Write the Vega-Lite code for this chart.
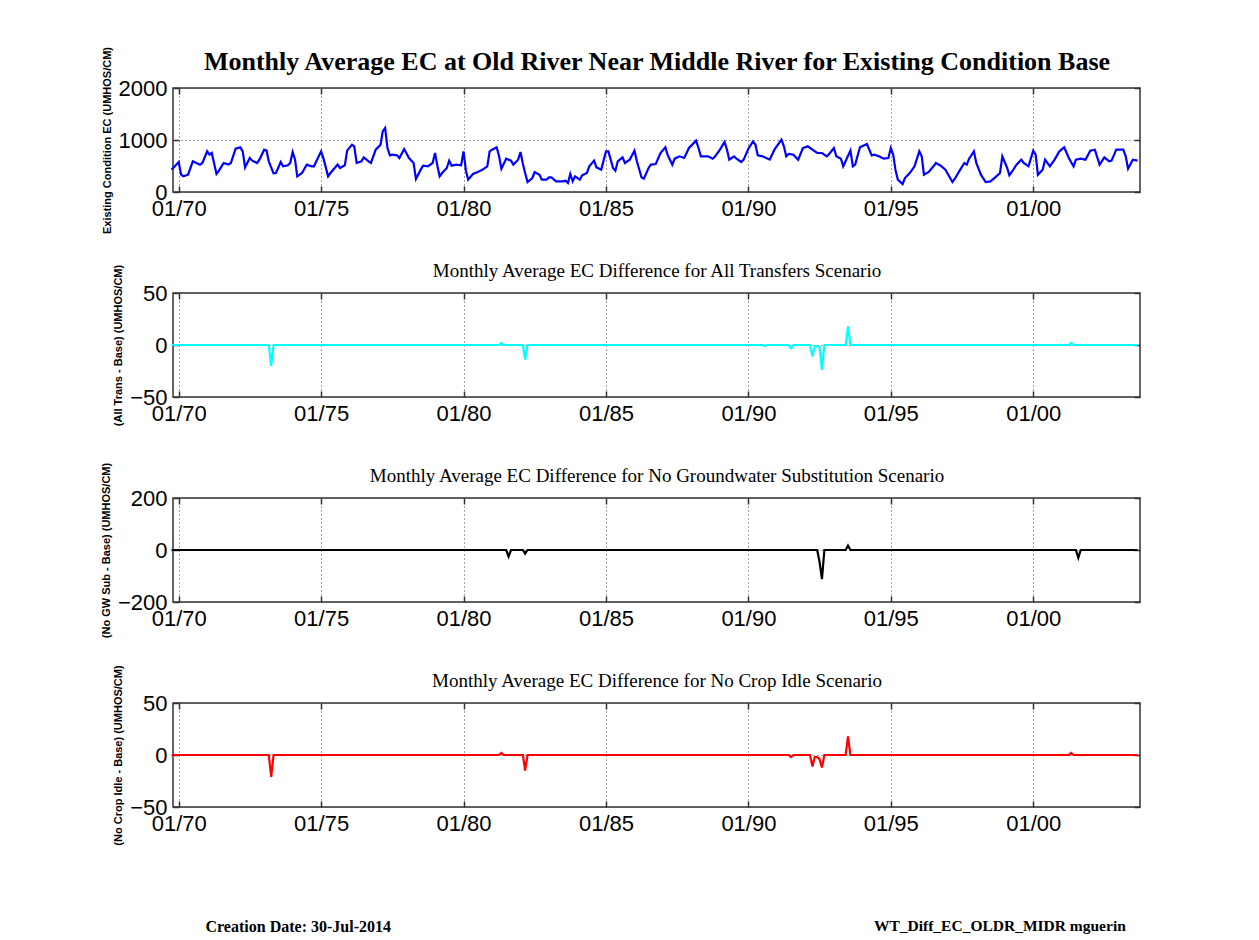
{
  "$schema": "https://vega.github.io/schema/vega-lite/v6.json",
  "background": "white",
  "padding": {"left": 99, "top": 44, "right": 0, "bottom": 0},
  "datasets": {
    "base": [
      {"date":"1969-10-01","v":430},{"date":"1970-01-01","v":577},{"date":"1970-02-01","v":333},{"date":"1970-03-01","v":301},{"date":"1970-05-01","v":333},{"date":"1970-07-01","v":590},{"date":"1970-10-01","v":526},{"date":"1970-11-01","v":558},
      {"date":"1971-01-01","v":782},{"date":"1971-02-01","v":718},{"date":"1971-03-01","v":750},{"date":"1971-05-01","v":346},{"date":"1971-06-01","v":410},{"date":"1971-08-01","v":558},{"date":"1971-10-01","v":526},{"date":"1971-11-01","v":558},
      {"date":"1972-01-01","v":833},{"date":"1972-03-01","v":859},{"date":"1972-04-01","v":782},{"date":"1972-05-01","v":474},{"date":"1972-07-01","v":654},{"date":"1972-08-01","v":603},{"date":"1972-10-01","v":558},{"date":"1972-11-01","v":622},
      {"date":"1973-01-01","v":814},{"date":"1973-02-01","v":795},{"date":"1973-03-01","v":590},{"date":"1973-05-01","v":359},{"date":"1973-06-01","v":365},{"date":"1973-08-01","v":577},{"date":"1973-09-01","v":494},{"date":"1973-11-01","v":513},{"date":"1973-12-01","v":558},
      {"date":"1974-01-01","v":769},{"date":"1974-02-01","v":622},{"date":"1974-03-01","v":301},{"date":"1974-05-01","v":365},{"date":"1974-07-01","v":526},{"date":"1974-09-01","v":494},{"date":"1974-10-01","v":494},
      {"date":"1975-01-01","v":782},{"date":"1975-02-01","v":641},{"date":"1975-04-01","v":301},{"date":"1975-05-01","v":365},{"date":"1975-08-01","v":526},{"date":"1975-09-01","v":462},{"date":"1975-11-01","v":513},{"date":"1975-12-01","v":795},
      {"date":"1976-02-01","v":910},{"date":"1976-03-01","v":878},{"date":"1976-04-01","v":558},{"date":"1976-06-01","v":590},{"date":"1976-07-01","v":667},{"date":"1976-09-01","v":590},{"date":"1976-10-01","v":558},{"date":"1976-12-01","v":814},
      {"date":"1977-02-01","v":910},{"date":"1977-03-01","v":1167},{"date":"1977-04-01","v":1231},{"date":"1977-05-01","v":846},{"date":"1977-06-01","v":705},{"date":"1977-07-01","v":718},{"date":"1977-09-01","v":705},{"date":"1977-10-01","v":654},{"date":"1977-12-01","v":827},
      {"date":"1978-02-01","v":654},{"date":"1978-04-01","v":558},{"date":"1978-05-01","v":250},{"date":"1978-07-01","v":430},{"date":"1978-08-01","v":506},{"date":"1978-10-01","v":494},{"date":"1978-12-01","v":558},
      {"date":"1979-01-01","v":750},{"date":"1979-02-01","v":494},{"date":"1979-03-01","v":301},{"date":"1979-04-01","v":365},{"date":"1979-06-01","v":462},{"date":"1979-07-01","v":603},{"date":"1979-08-01","v":506},{"date":"1979-10-01","v":526},{"date":"1979-12-01","v":513},
      {"date":"1980-01-01","v":782},{"date":"1980-02-01","v":410},{"date":"1980-03-01","v":237},{"date":"1980-05-01","v":346},{"date":"1980-07-01","v":385},{"date":"1980-09-01","v":430},{"date":"1980-11-01","v":494},{"date":"1980-12-01","v":782},
      {"date":"1981-01-01","v":814},{"date":"1981-03-01","v":859},{"date":"1981-04-01","v":686},{"date":"1981-05-01","v":449},{"date":"1981-07-01","v":641},{"date":"1981-09-01","v":603},{"date":"1981-10-01","v":526},{"date":"1981-12-01","v":622},
      {"date":"1982-01-01","v":769},{"date":"1982-02-01","v":538},{"date":"1982-03-01","v":365},{"date":"1982-04-01","v":192},{"date":"1982-06-01","v":269},{"date":"1982-07-01","v":385},{"date":"1982-09-01","v":333},{"date":"1982-10-01","v":237},{"date":"1982-12-01","v":237},
      {"date":"1983-01-01","v":282},{"date":"1983-02-01","v":282},{"date":"1983-04-01","v":205},{"date":"1983-07-01","v":205},{"date":"1983-08-01","v":218},{"date":"1983-09-01","v":173},{"date":"1983-10-01","v":346},{"date":"1983-11-01","v":205},{"date":"1983-12-01","v":301},
      {"date":"1984-02-01","v":237},{"date":"1984-03-01","v":320},{"date":"1984-05-01","v":365},{"date":"1984-06-01","v":494},{"date":"1984-08-01","v":603},{"date":"1984-09-01","v":474},{"date":"1984-11-01","v":430},
      {"date":"1985-01-01","v":782},{"date":"1985-02-01","v":782},{"date":"1985-04-01","v":462},{"date":"1985-05-01","v":410},{"date":"1985-06-01","v":590},{"date":"1985-08-01","v":667},{"date":"1985-09-01","v":558},{"date":"1985-11-01","v":622},
      {"date":"1986-01-01","v":795},{"date":"1986-02-01","v":590},{"date":"1986-04-01","v":282},{"date":"1986-05-01","v":256},{"date":"1986-07-01","v":462},{"date":"1986-08-01","v":526},{"date":"1986-10-01","v":538},{"date":"1986-12-01","v":750},
      {"date":"1987-02-01","v":859},{"date":"1987-03-01","v":718},{"date":"1987-05-01","v":526},{"date":"1987-06-01","v":641},{"date":"1987-08-01","v":686},{"date":"1987-10-01","v":654},{"date":"1987-12-01","v":846},
      {"date":"1988-03-01","v":987},{"date":"1988-04-01","v":846},{"date":"1988-05-01","v":686},{"date":"1988-08-01","v":686},{"date":"1988-10-01","v":641},{"date":"1988-11-01","v":686},
      {"date":"1989-01-01","v":814},{"date":"1989-03-01","v":962},{"date":"1989-04-01","v":814},{"date":"1989-05-01","v":622},{"date":"1989-07-01","v":686},{"date":"1989-08-01","v":641},{"date":"1989-10-01","v":577},{"date":"1989-11-01","v":622},
      {"date":"1990-01-01","v":833},{"date":"1990-03-01","v":974},{"date":"1990-04-01","v":910},{"date":"1990-05-01","v":705},{"date":"1990-07-01","v":686},{"date":"1990-10-01","v":622},{"date":"1990-12-01","v":814},
      {"date":"1991-03-01","v":1006},{"date":"1991-04-01","v":878},{"date":"1991-05-01","v":686},{"date":"1991-06-01","v":731},{"date":"1991-08-01","v":718},{"date":"1991-10-01","v":622},{"date":"1991-12-01","v":846},
      {"date":"1992-02-01","v":878},{"date":"1992-04-01","v":814},{"date":"1992-06-01","v":750},{"date":"1992-08-01","v":750},{"date":"1992-10-01","v":686},{"date":"1992-11-01","v":731},
      {"date":"1993-01-01","v":846},{"date":"1993-02-01","v":686},{"date":"1993-04-01","v":641},{"date":"1993-05-01","v":494},{"date":"1993-08-01","v":795},{"date":"1993-09-01","v":494},{"date":"1993-10-01","v":526},{"date":"1993-12-01","v":859},
      {"date":"1994-03-01","v":923},{"date":"1994-05-01","v":705},{"date":"1994-06-01","v":718},{"date":"1994-08-01","v":686},{"date":"1994-10-01","v":641},{"date":"1994-12-01","v":654},
      {"date":"1995-01-01","v":846},{"date":"1995-02-01","v":718},{"date":"1995-03-01","v":430},{"date":"1995-04-01","v":237},{"date":"1995-06-01","v":154},{"date":"1995-07-01","v":269},{"date":"1995-09-01","v":365},{"date":"1995-11-01","v":494},
      {"date":"1996-01-01","v":782},{"date":"1996-02-01","v":686},{"date":"1996-03-01","v":333},{"date":"1996-05-01","v":385},{"date":"1996-07-01","v":494},{"date":"1996-08-01","v":558},{"date":"1996-10-01","v":506},{"date":"1996-12-01","v":430},
      {"date":"1997-03-01","v":192},{"date":"1997-04-01","v":256},{"date":"1997-06-01","v":410},{"date":"1997-08-01","v":558},{"date":"1997-09-01","v":526},{"date":"1997-10-01","v":641},{"date":"1997-12-01","v":782},
      {"date":"1998-01-01","v":558},{"date":"1998-03-01","v":333},{"date":"1998-05-01","v":192},{"date":"1998-07-01","v":205},{"date":"1998-09-01","v":282},{"date":"1998-11-01","v":365},{"date":"1998-12-01","v":686},
      {"date":"1999-02-01","v":462},{"date":"1999-03-01","v":320},{"date":"1999-04-01","v":385},{"date":"1999-06-01","v":526},{"date":"1999-08-01","v":622},{"date":"1999-09-01","v":558},{"date":"1999-11-01","v":494},
      {"date":"2000-01-01","v":795},{"date":"2000-02-01","v":718},{"date":"2000-03-01","v":333},{"date":"2000-05-01","v":430},{"date":"2000-06-01","v":622},{"date":"2000-08-01","v":494},{"date":"2000-10-01","v":622},{"date":"2000-12-01","v":782},
      {"date":"2001-02-01","v":859},{"date":"2001-04-01","v":654},{"date":"2001-06-01","v":494},{"date":"2001-07-01","v":622},{"date":"2001-09-01","v":641},{"date":"2001-11-01","v":622},
      {"date":"2002-01-01","v":795},{"date":"2002-03-01","v":814},{"date":"2002-05-01","v":526},{"date":"2002-07-01","v":667},{"date":"2002-09-01","v":590},{"date":"2002-10-01","v":603},{"date":"2002-12-01","v":814},
      {"date":"2003-03-01","v":814},{"date":"2003-04-01","v":686},{"date":"2003-05-01","v":449},{"date":"2003-07-01","v":622},{"date":"2003-09-01","v":603}
    ],
    "trans": [
      {"date":"1969-10-01","v":0},{"date":"1973-03-01","v":0},{"date":"1973-04-01","v":-20},{"date":"1973-05-01","v":0},
      {"date":"1981-04-01","v":0},{"date":"1981-05-01","v":2},{"date":"1981-06-01","v":0},
      {"date":"1982-02-01","v":0},{"date":"1982-03-01","v":-14},{"date":"1982-04-01","v":0},
      {"date":"1990-07-01","v":0},{"date":"1990-08-01","v":-1},{"date":"1990-09-01","v":0},
      {"date":"1991-06-01","v":0},{"date":"1991-07-01","v":-3},{"date":"1991-08-01","v":0},
      {"date":"1992-03-01","v":0},{"date":"1992-04-01","v":-11},{"date":"1992-05-01","v":-1},{"date":"1992-06-01","v":-1},{"date":"1992-07-01","v":-2},{"date":"1992-08-01","v":-24},{"date":"1992-09-01","v":0},
      {"date":"1993-06-01","v":0},{"date":"1993-07-01","v":18},{"date":"1993-08-01","v":0},
      {"date":"2001-04-01","v":0},{"date":"2001-05-01","v":2},{"date":"2001-06-01","v":0},{"date":"2003-09-01","v":0}
    ],
    "gw": [
      {"date":"1969-10-01","v":0},{"date":"1981-07-01","v":0},{"date":"1981-08-01","v":-25},{"date":"1981-09-01","v":0},
      {"date":"1982-02-01","v":0},{"date":"1982-03-01","v":-14},{"date":"1982-04-01","v":0},
      {"date":"1992-06-01","v":0},{"date":"1992-07-01","v":-45},{"date":"1992-08-01","v":-112},{"date":"1992-09-01","v":0},
      {"date":"1993-06-01","v":0},{"date":"1993-07-01","v":17},{"date":"1993-08-01","v":0},
      {"date":"2001-07-01","v":0},{"date":"2001-08-01","v":-30},{"date":"2001-09-01","v":0},{"date":"2003-09-01","v":0}
    ],
    "crop": [
      {"date":"1969-10-01","v":0},{"date":"1973-03-01","v":0},{"date":"1973-04-01","v":-21},{"date":"1973-05-01","v":0},
      {"date":"1981-04-01","v":0},{"date":"1981-05-01","v":2},{"date":"1981-06-01","v":0},
      {"date":"1982-02-01","v":0},{"date":"1982-03-01","v":-15},{"date":"1982-04-01","v":0},
      {"date":"1991-06-01","v":0},{"date":"1991-07-01","v":-2},{"date":"1991-08-01","v":0},
      {"date":"1992-03-01","v":0},{"date":"1992-04-01","v":-11},{"date":"1992-05-01","v":-2},{"date":"1992-06-01","v":-2},{"date":"1992-07-01","v":-4},{"date":"1992-08-01","v":-12},{"date":"1992-09-01","v":0},
      {"date":"1993-06-01","v":0},{"date":"1993-07-01","v":18},{"date":"1993-08-01","v":0},
      {"date":"2001-04-01","v":0},{"date":"2001-05-01","v":2},{"date":"2001-06-01","v":0},{"date":"2003-09-01","v":0}
    ]
  },
  "title": {"text": "WT_Diff_EC_OLDR_MIDR mguerin", "orient": "bottom", "anchor": "end", "font": "Liberation Serif", "fontSize": 15.5, "fontWeight": "bold", "color": "#000", "offset": -10, "dx": -17, "dy": -6},
  "bounds": "flush",
  "spacing": 101,
  "vconcat": [
    {
      "data": {"name": "base"},
      "width": 967, "height": 104,
      "layer": [
        {"mark": {"type": "line", "color": "#0000ff", "strokeWidth": 2.2},
         "encoding": {
           "x": {"field": "date", "type": "temporal", "scale": {"type": "utc", "domain": [{"year": 1969, "month": 10, "date": 20, "utc": true}, {"year": 2003, "month": 10, "date": 1, "utc": true}]},
                 "axis": {"title": null, "format": "%m/%y", "values": [{"year":1970,"month":1,"date":1,"utc":true},{"year":1975,"month":1,"date":1,"utc":true},{"year":1980,"month":1,"date":1,"utc":true},{"year":1985,"month":1,"date":1,"utc":true},{"year":1990,"month":1,"date":1,"utc":true},{"year":1995,"month":1,"date":1,"utc":true},{"year":2000,"month":1,"date":1,"utc":true}], "grid": true}},
           "y": {"field": "v", "type": "quantitative", "scale": {"domain": [0, 2000], "nice": false, "zero": false},
                 "axis": {"title": "Existing Condition  EC (UMHOS/CM)", "format": "d", "values": [0, 1000, 2000], "grid": true}}
         }},
        {"mark": {"type": "line", "opacity": 0},
         "encoding": {
           "x": {"field": "date", "type": "temporal", "axis": {"orient": "top", "labels": false, "grid": false, "title": "Monthly Average EC at Old River Near Middle River for Existing Condition Base", "titleFont": "Liberation Serif", "titleFontSize": 26, "titleFontWeight": "bold", "titlePadding": 13, "values": [{"year":1970,"month":1,"date":1,"utc":true},{"year":1975,"month":1,"date":1,"utc":true},{"year":1980,"month":1,"date":1,"utc":true},{"year":1985,"month":1,"date":1,"utc":true},{"year":1990,"month":1,"date":1,"utc":true},{"year":1995,"month":1,"date":1,"utc":true},{"year":2000,"month":1,"date":1,"utc":true}]}},
           "y": {"field": "v", "type": "quantitative", "axis": {"orient": "right", "labels": false, "grid": false, "title": null, "values": [0, 1000, 2000]}}
         }}
      ],
      "resolve": {"axis": {"x": "independent", "y": "independent"}}
    },
    {
      "data": {"name": "trans"},
      "width": 967, "height": 104,
      "layer": [
        {"mark": {"type": "line", "color": "#00ffff", "strokeWidth": 2.2},
         "encoding": {
           "x": {"field": "date", "type": "temporal", "scale": {"type": "utc", "domain": [{"year": 1969, "month": 10, "date": 20, "utc": true}, {"year": 2003, "month": 10, "date": 1, "utc": true}]},
                 "axis": {"title": null, "format": "%m/%y", "values": [{"year":1970,"month":1,"date":1,"utc":true},{"year":1975,"month":1,"date":1,"utc":true},{"year":1980,"month":1,"date":1,"utc":true},{"year":1985,"month":1,"date":1,"utc":true},{"year":1990,"month":1,"date":1,"utc":true},{"year":1995,"month":1,"date":1,"utc":true},{"year":2000,"month":1,"date":1,"utc":true}], "grid": true}},
           "y": {"field": "v", "type": "quantitative", "scale": {"domain": [-50, 50], "nice": false, "zero": false},
                 "axis": {"title": "(All Trans  -  Base) (UMHOS/CM)", "format": "d", "values": [-50, 0, 50], "grid": true}}
         }},
        {"mark": {"type": "line", "opacity": 0},
         "encoding": {
           "x": {"field": "date", "type": "temporal", "axis": {"orient": "top", "labels": false, "grid": false, "title": "Monthly Average EC Difference for All Transfers Scenario", "titleFont": "Liberation Serif", "titleFontSize": 19, "titleFontWeight": "normal", "titlePadding": 12, "values": [{"year":1970,"month":1,"date":1,"utc":true},{"year":1975,"month":1,"date":1,"utc":true},{"year":1980,"month":1,"date":1,"utc":true},{"year":1985,"month":1,"date":1,"utc":true},{"year":1990,"month":1,"date":1,"utc":true},{"year":1995,"month":1,"date":1,"utc":true},{"year":2000,"month":1,"date":1,"utc":true}]}},
           "y": {"field": "v", "type": "quantitative", "axis": {"orient": "right", "labels": false, "grid": false, "title": null, "values": [-50, 0, 50]}}
         }}
      ],
      "resolve": {"axis": {"x": "independent", "y": "independent"}}
    },
    {
      "data": {"name": "gw"},
      "width": 967, "height": 104,
      "layer": [
        {"mark": {"type": "line", "color": "#000000", "strokeWidth": 2.2},
         "encoding": {
           "x": {"field": "date", "type": "temporal", "scale": {"type": "utc", "domain": [{"year": 1969, "month": 10, "date": 20, "utc": true}, {"year": 2003, "month": 10, "date": 1, "utc": true}]},
                 "axis": {"title": null, "format": "%m/%y", "values": [{"year":1970,"month":1,"date":1,"utc":true},{"year":1975,"month":1,"date":1,"utc":true},{"year":1980,"month":1,"date":1,"utc":true},{"year":1985,"month":1,"date":1,"utc":true},{"year":1990,"month":1,"date":1,"utc":true},{"year":1995,"month":1,"date":1,"utc":true},{"year":2000,"month":1,"date":1,"utc":true}], "grid": true}},
           "y": {"field": "v", "type": "quantitative", "scale": {"domain": [-200, 200], "nice": false, "zero": false},
                 "axis": {"title": "(No GW Sub  -  Base) (UMHOS/CM)", "format": "d", "values": [-200, 0, 200], "grid": true}}
         }},
        {"mark": {"type": "line", "opacity": 0},
         "encoding": {
           "x": {"field": "date", "type": "temporal", "axis": {"orient": "top", "labels": false, "grid": false, "title": "Monthly Average EC Difference for No Groundwater Substitution Scenario", "titleFont": "Liberation Serif", "titleFontSize": 19, "titleFontWeight": "normal", "titlePadding": 12, "values": [{"year":1970,"month":1,"date":1,"utc":true},{"year":1975,"month":1,"date":1,"utc":true},{"year":1980,"month":1,"date":1,"utc":true},{"year":1985,"month":1,"date":1,"utc":true},{"year":1990,"month":1,"date":1,"utc":true},{"year":1995,"month":1,"date":1,"utc":true},{"year":2000,"month":1,"date":1,"utc":true}]}},
           "y": {"field": "v", "type": "quantitative", "axis": {"orient": "right", "labels": false, "grid": false, "title": null, "values": [-200, 0, 200]}}
         }}
      ],
      "resolve": {"axis": {"x": "independent", "y": "independent"}}
    },
    {
      "data": {"name": "crop"},
      "width": 967, "height": 104,
      "layer": [
        {"mark": {"type": "line", "color": "#ff0000", "strokeWidth": 2.2},
         "encoding": {
           "x": {"field": "date", "type": "temporal", "scale": {"type": "utc", "domain": [{"year": 1969, "month": 10, "date": 20, "utc": true}, {"year": 2003, "month": 10, "date": 1, "utc": true}]},
                 "axis": {"title": "Creation Date:  30-Jul-2014", "titleX": 32, "titleY": 119, "titleAlign": "left", "titleBaseline": "middle", "titleFont": "Liberation Serif", "titleFontSize": 16, "titleFontWeight": "bold", "format": "%m/%y", "values": [{"year":1970,"month":1,"date":1,"utc":true},{"year":1975,"month":1,"date":1,"utc":true},{"year":1980,"month":1,"date":1,"utc":true},{"year":1985,"month":1,"date":1,"utc":true},{"year":1990,"month":1,"date":1,"utc":true},{"year":1995,"month":1,"date":1,"utc":true},{"year":2000,"month":1,"date":1,"utc":true}], "grid": true}},
           "y": {"field": "v", "type": "quantitative", "scale": {"domain": [-50, 50], "nice": false, "zero": false},
                 "axis": {"title": "(No Crop Idle  -  Base) (UMHOS/CM)", "format": "d", "values": [-50, 0, 50], "grid": true}}
         }},
        {"mark": {"type": "line", "opacity": 0},
         "encoding": {
           "x": {"field": "date", "type": "temporal", "axis": {"orient": "top", "labels": false, "grid": false, "title": "Monthly Average EC Difference for No Crop Idle Scenario", "titleFont": "Liberation Serif", "titleFontSize": 19, "titleFontWeight": "normal", "titlePadding": 12, "values": [{"year":1970,"month":1,"date":1,"utc":true},{"year":1975,"month":1,"date":1,"utc":true},{"year":1980,"month":1,"date":1,"utc":true},{"year":1985,"month":1,"date":1,"utc":true},{"year":1990,"month":1,"date":1,"utc":true},{"year":1995,"month":1,"date":1,"utc":true},{"year":2000,"month":1,"date":1,"utc":true}]}},
           "y": {"field": "v", "type": "quantitative", "axis": {"orient": "right", "labels": false, "grid": false, "title": null, "values": [-50, 0, 50]}}
         }}
      ],
      "resolve": {"axis": {"x": "independent", "y": "independent"}}
    }
  ],
  "config": {
    "view": {"stroke": "#333333", "strokeWidth": 1.5},
    "axis": {"labelFont": "Liberation Sans", "labelFontSize": 22, "labelColor": "#000", "labelPadding": 12, "labelFlush": false, "labelOverlap": false,
             "titleFont": "Liberation Sans", "titleFontSize": 11, "titleFontWeight": "bold", "titleColor": "#000", "titlePadding": 6,
             "domain": false, "ticks": true, "tickColor": "#333333", "tickSize": -6, "tickWidth": 1.5,
             "gridColor": "#444444", "gridDash": [1, 3], "gridOpacity": 1, "gridWidth": 1}
  }
}
